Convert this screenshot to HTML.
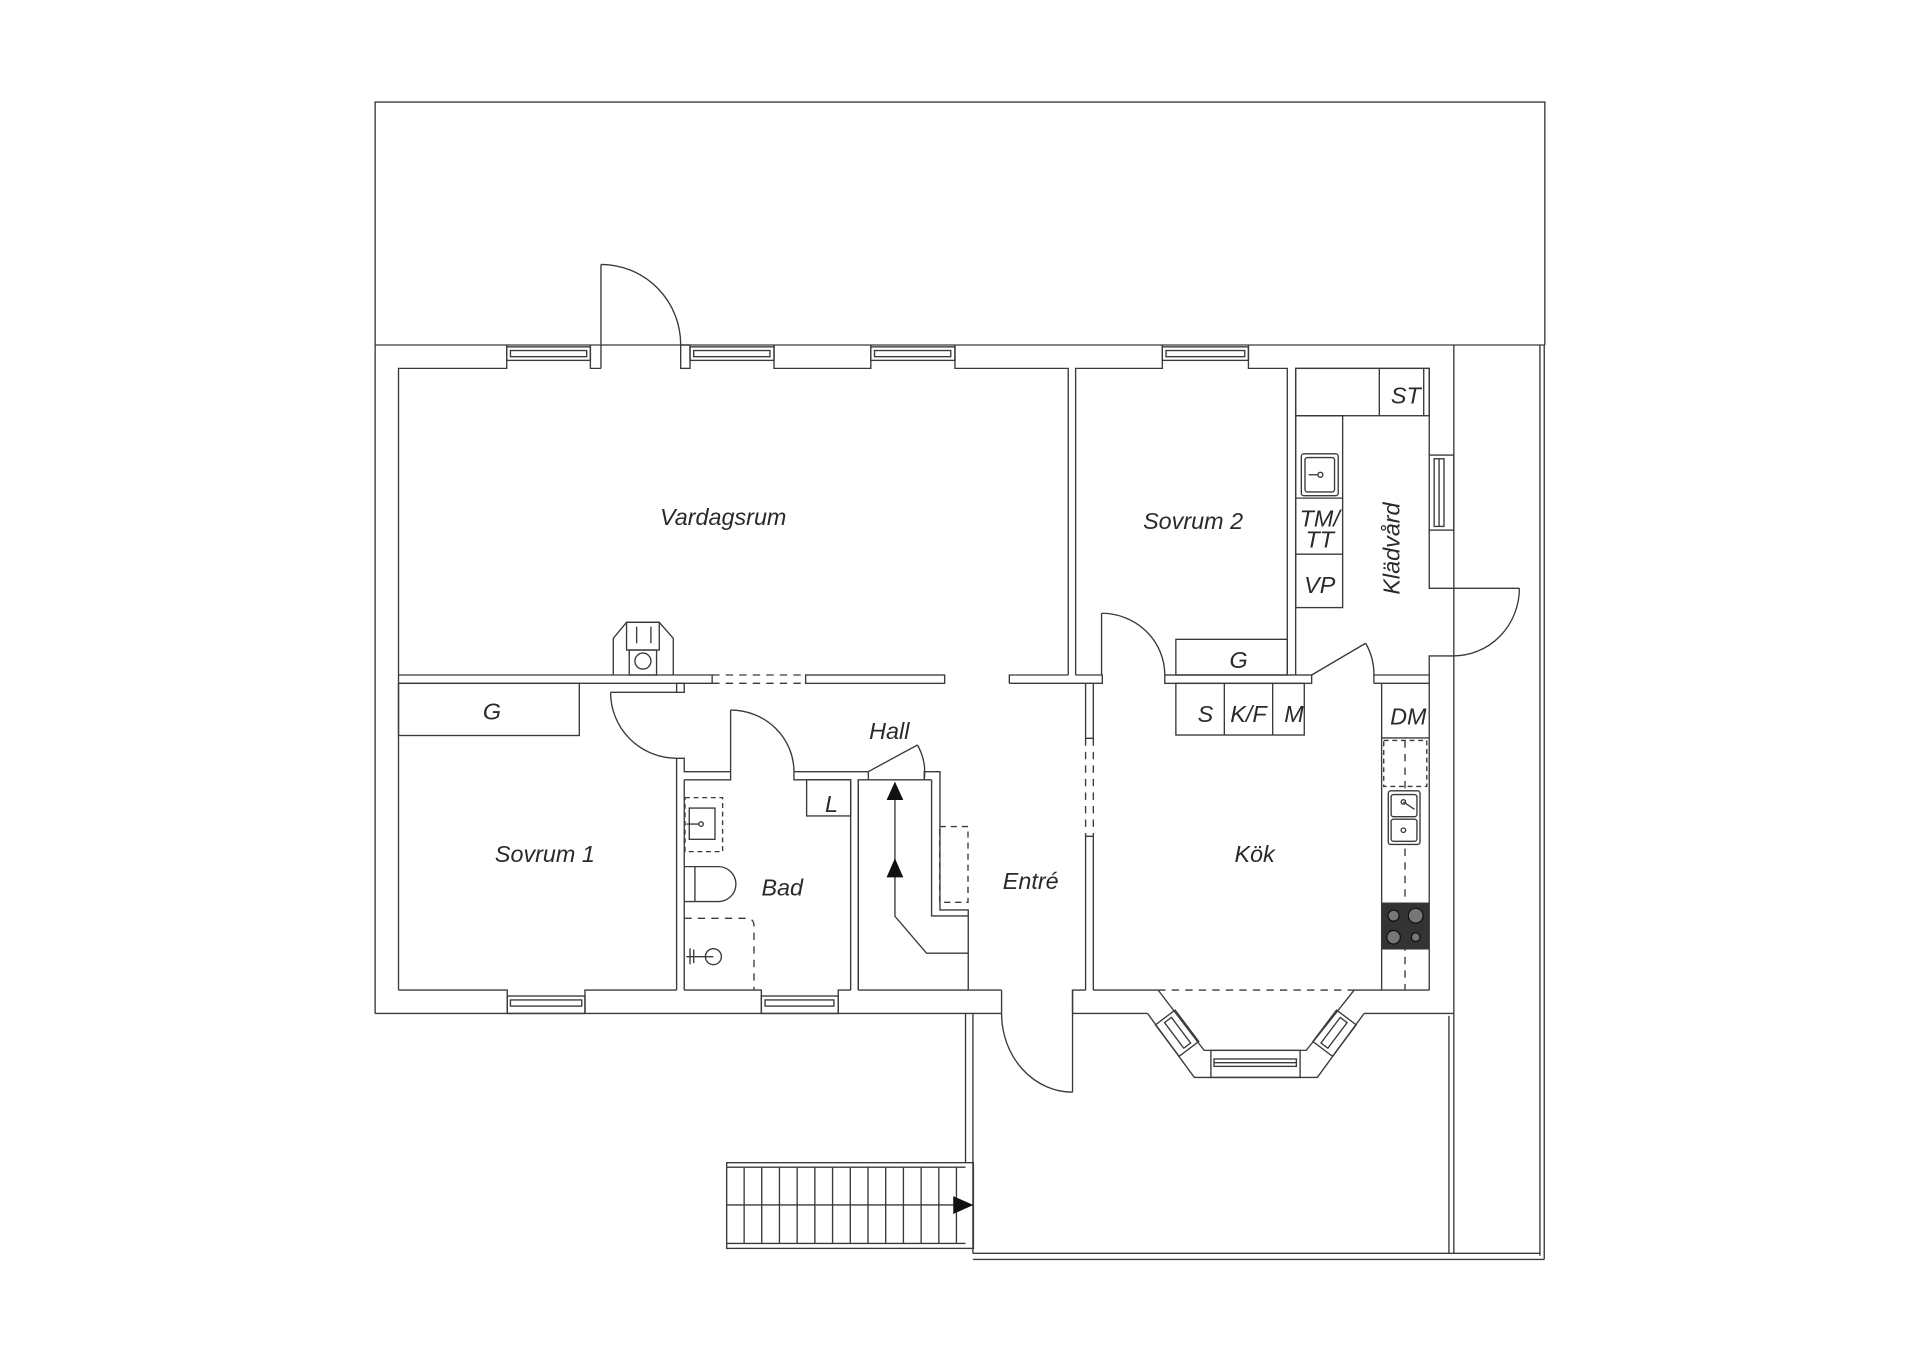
<!DOCTYPE html>
<html><head><meta charset="utf-8"><style>
html,body{margin:0;padding:0;background:#fff;}
svg{display:block;}
text{font-family:"Liberation Sans",sans-serif;font-style:italic;fill:#2a2a2a;font-size:19px;}
</style></head><body>
<svg width="1920" height="1357" viewBox="0 0 1561 1103.3" preserveAspectRatio="none" xmlns="http://www.w3.org/2000/svg">
<g fill="none" stroke="#3a3a3a" stroke-width="1.1">
<!-- yard top -->
<polyline points="305,280.5 305,83 1256,83 1256,280.5"/>
<!-- outer top line -->
<line x1="305" y1="280.5" x2="1256" y2="280.5"/>
<!-- far right double lines -->
<line x1="1252" y1="280.5" x2="1252" y2="1021"/>
<line x1="1255.5" y1="280.5" x2="1255.5" y2="1024"/>
<!-- outer left and bottom -->
<line x1="305" y1="280.5" x2="305" y2="824"/>
<line x1="305" y1="824" x2="814" y2="824"/>
<line x1="872" y1="824" x2="933" y2="824"/>
<line x1="1109" y1="824" x2="1182" y2="824"/>
<line x1="1182" y1="280.5" x2="1182" y2="824"/>
<!-- lower enclosure -->
<line x1="785" y1="824" x2="785" y2="945"/>
<line x1="791" y1="824" x2="791" y2="1019"/>
<line x1="791" y1="1019" x2="1252" y2="1019"/>
<line x1="791" y1="1024" x2="1255.5" y2="1024"/>
<line x1="1178" y1="826" x2="1178" y2="1019"/>
<line x1="1182" y1="824" x2="1182" y2="1019"/>

<!-- top wall inner + windows -->
<polyline points="324,805 324,299.5 412,299.5 412,280.5"/>
<rect x="412" y="282" width="68" height="11"/><rect x="415" y="285" width="62" height="5"/>
<polyline points="480,280.5 480,299.5 488.6,299.5"/>
<line x1="488.6" y1="215" x2="488.6" y2="299.5"/>
<path d="M488.6,215 A65,65 0 0 1 553.4,280.5"/>
<rect x="553.4" y="280.5" width="7.6" height="19"/>
<rect x="561" y="282" width="68.3" height="11"/><rect x="564" y="285" width="62" height="5"/>
<polyline points="629.3,280.5 629.3,299.5 708,299.5 708,280.5"/>
<rect x="708" y="282" width="68.4" height="11"/><rect x="711" y="285" width="62" height="5"/>
<polyline points="776.4,280.5 776.4,299.5 868.5,299.5 868.5,548.8"/>
<!-- vardagsrum/sovrum2 wall -->
<polyline points="874.5,548.8 874.5,299.5 945,299.5 945,280.5"/>
<rect x="945" y="282" width="70" height="11"/><rect x="948" y="285" width="64" height="5"/>
<polyline points="1015,280.5 1015,299.5 1046.6,299.5 1046.6,548.8"/>
<polyline points="1053.4,548.8 1053.4,299.5 1162,299.5 1162,370"/>
<!-- klädvård right window + door -->
<rect x="1162" y="370" width="20" height="61"/>
<rect x="1166" y="373" width="8" height="55"/><line x1="1170" y1="373" x2="1170" y2="428"/>
<polyline points="1162,431 1162,478.3 1235.3,478.3"/>
<path d="M1235.3,478.3 A53.7,55 0 0 1 1181.6,533.3"/>
<polyline points="1182,533.3 1162,533.3 1162,548.8 1117,548.8"/>
<line x1="1117" y1="548.8" x2="1117" y2="555.6"/>
<!-- klädvård door -->
<line x1="1066.4" y1="548.8" x2="1110.3" y2="523"/>
<path d="M1110.3,523 A50,50 0 0 1 1117,548.8"/>
<!-- klädvård cabinets -->
<rect x="1053.4" y="299.5" width="108.6" height="38.5"/>
<line x1="1121.4" y1="299.5" x2="1121.4" y2="338"/>
<line x1="1157.5" y1="299.5" x2="1157.5" y2="338"/>
<rect x="1053.4" y="338" width="38.2" height="156"/>
<line x1="1053.4" y1="405" x2="1091.6" y2="405"/>
<line x1="1053.4" y1="450.6" x2="1091.6" y2="450.6"/>
<rect x="1058" y="369" width="30" height="34" rx="2"/><rect x="1061" y="372" width="24" height="28" rx="2"/>
<circle cx="1073.5" cy="386" r="2"/><line x1="1064" y1="386" x2="1072" y2="386"/>

<!-- vardagsrum bottom wall -->
<polyline points="324,548.8 579,548.8 579,555.6 324,555.6"/>
<line x1="579" y1="548.8" x2="655" y2="548.8" stroke-dasharray="6,5"/>
<line x1="579" y1="555.6" x2="655" y2="555.6" stroke-dasharray="6,5"/>
<rect x="655" y="548.8" width="113" height="6.8"/>
<polyline points="820.6,555.6 820.6,548.8 868.5,548.8"/>
<polyline points="874.5,548.8 896.2,548.8 896.2,555.6 820.6,555.6"/>
<!-- sovrum2 door -->
<line x1="895.6" y1="498.6" x2="895.6" y2="548.8"/>
<path d="M895.6,498.6 A51.4,50.2 0 0 1 947,548.8"/>
<rect x="947" y="548.8" width="119.4" height="6.8"/>
<rect x="956" y="519.8" width="90.6" height="29"/>
<rect x="956" y="555.6" width="104.4" height="42"/>
<line x1="995.4" y1="555.6" x2="995.4" y2="597.6"/>
<line x1="1034.7" y1="555.6" x2="1034.7" y2="597.6"/>
<!-- fireplace -->
<polyline points="498.6,548.8 498.6,519 509.4,506 536,506 547.4,519 547.4,548.8"/>
<rect x="509.4" y="506" width="26.6" height="22.5"/>
<rect x="511.6" y="528.5" width="22.2" height="20.3"/>
<circle cx="522.7" cy="537.5" r="6.5"/>
<line x1="517.6" y1="509.5" x2="517.6" y2="523"/><line x1="529.2" y1="509.5" x2="529.2" y2="523"/>

<!-- sovrum1 -->
<rect x="324" y="555.6" width="147" height="42.4"/>
<rect x="550.1" y="555.6" width="6.2" height="7.3"/>
<line x1="496.4" y1="562.9" x2="550.1" y2="562.9"/>
<path d="M496.4,562.9 A53.7,53.6 0 0 0 550.1,616.5"/>
<polyline points="550.1,616.5 556.3,616.5 556.3,627.4 594,627.4"/>
<line x1="550.1" y1="616.5" x2="550.1" y2="805"/>
<line x1="556.3" y1="634" x2="556.3" y2="805"/>
<polyline points="324,805 412.4,805 412.4,824"/>
<rect x="412.4" y="809.8" width="63.2" height="14.2"/><rect x="415" y="813" width="58" height="5"/>
<polyline points="475.6,824 475.6,805 550.1,805"/>
<!-- bad -->
<line x1="594" y1="577.3" x2="594" y2="627.4"/>
<path d="M594,577.3 A51.5,50.1 0 0 1 645.5,627.4"/>
<polyline points="645.5,627.4 705.9,627.4"/>
<polyline points="556.3,634 594,634 594,627.4"/>
<polyline points="645.5,627.4 645.5,634 691.6,634 691.6,805"/>
<rect x="655.8" y="634" width="35.8" height="29.4"/>
<line x1="697.8" y1="634" x2="697.8" y2="805"/>
<polyline points="556.3,805 619,805 619,824"/>
<rect x="619" y="809.8" width="62.5" height="14.2"/><rect x="622" y="813" width="56" height="5"/>
<polyline points="681.5,824 681.5,805 691.6,805"/>
<rect x="556.9" y="648.5" width="30.6" height="43.9" stroke-dasharray="4,3"/>
<rect x="560.4" y="657" width="20.9" height="25.4"/>
<circle cx="570" cy="670" r="1.8"/><line x1="558" y1="670" x2="568" y2="670"/>
<path d="M556.3,704.6 H584 A14.3,14.2 0 0 1 584,733 H556.3"/>
<line x1="565" y1="704.6" x2="565" y2="733"/>
<path d="M556.3,746.6 H607 Q613,746.6 613,753 V805" stroke-dasharray="6,5"/>
<circle cx="580" cy="777.8" r="6.5"/>
<line x1="558" y1="777.8" x2="580" y2="777.8"/><line x1="561" y1="771" x2="561" y2="784"/><line x1="564" y1="772" x2="564" y2="783"/>
<!-- stair closet -->
<polyline points="697.8,805 697.8,634 706,634"/>
<line x1="706" y1="627.4" x2="706" y2="634"/>
<line x1="705.9" y1="627.4" x2="745.9" y2="605.7"/>
<path d="M745.9,605.7 A45,45 0 0 1 751.4,634"/>
<line x1="706" y1="634" x2="757.4" y2="634"/>
<polyline points="751.4,634 751.4,627.4 764.2,627.4 764.2,739.8 787.2,739.8 787.2,805"/>
<polyline points="757.4,634 757.4,744.7 787.2,744.7"/>
<rect x="764" y="672" width="23" height="61.6" stroke-dasharray="5,4"/>
<polyline points="727.6,640 727.6,745 753.3,775 787.2,775"/>
<line x1="697.8" y1="805" x2="814.3" y2="805"/>
<line x1="814.3" y1="805" x2="814.3" y2="824"/>
<!-- entré door -->
<line x1="872" y1="805" x2="872" y2="888"/>
<path d="M814.3,824 A57.7,64 0 0 0 872,888"/>
<polyline points="872,824 872,805 882.6,805"/>
<!-- kitchen left wall -->
<polyline points="882.6,805 882.6,680 888.9,680 888.9,805"/>
<polyline points="882.6,555.6 882.6,600.3 888.9,600.3 888.9,555.6"/>
<line x1="882.6" y1="600.3" x2="882.6" y2="680" stroke-dasharray="6,5"/>
<line x1="888.9" y1="600.3" x2="888.9" y2="680" stroke-dasharray="6,5"/>
<!-- kitchen bottom + bay -->
<line x1="888.9" y1="805" x2="941.6" y2="805"/>
<line x1="941.6" y1="805" x2="1101" y2="805" stroke-dasharray="6,5"/>
<line x1="1101" y1="805" x2="1162" y2="805"/>
<polyline points="933,824 971,876 1071,876 1109,824"/>
<polyline points="941.6,805 979,854 1062,854 1101,805"/>
<rect x="984.5" y="854" width="72.5" height="22"/>
<rect x="987" y="861" width="67" height="6"/><line x1="987" y1="864" x2="1054" y2="864"/>
<g transform="translate(957,840) rotate(53)"><rect x="-16" y="-10" width="32" height="20"/><rect x="-13" y="-4" width="26" height="7"/></g>
<g transform="translate(1085,840) rotate(-53)"><rect x="-16" y="-10" width="32" height="20"/><rect x="-13" y="-4" width="26" height="7"/></g>
<!-- kitchen right cabinets -->
<line x1="1162" y1="548.8" x2="1162" y2="805"/>
<line x1="1117" y1="555.6" x2="1162" y2="555.6"/>
<line x1="1123.3" y1="555.6" x2="1123.3" y2="805"/>
<line x1="1123.3" y1="600" x2="1162" y2="600"/>
<rect x="1125" y="602" width="35" height="37.4" stroke-dasharray="4,3"/>
<line x1="1142.3" y1="602" x2="1142.3" y2="805" stroke-dasharray="6,5"/>
<rect x="1128.7" y="643" width="25.8" height="43.6" rx="2" fill="#fff"/>
<rect x="1131" y="646" width="21" height="18" rx="2"/><rect x="1131" y="666" width="21" height="18" rx="2"/>
<circle cx="1141" cy="652" r="1.8"/><circle cx="1141" cy="675" r="1.8"/>
<line x1="1141" y1="652" x2="1150" y2="658"/>
<!-- stairs -->
<rect x="590.8" y="945.3" width="200.6" height="69.7"/>
<line x1="590.8" y1="949" x2="785" y2="949"/>
<line x1="590.8" y1="1011" x2="785" y2="1011"/>
<line x1="590.8" y1="979.7" x2="785" y2="979.7"/>
</g>
<g stroke="#3a3a3a" stroke-width="1.1">
<line x1="605" y1="949" x2="605" y2="1011"/><line x1="619.3" y1="949" x2="619.3" y2="1011"/><line x1="633.7" y1="949" x2="633.7" y2="1011"/><line x1="648.1" y1="949" x2="648.1" y2="1011"/><line x1="662.5" y1="949" x2="662.5" y2="1011"/><line x1="676.9" y1="949" x2="676.9" y2="1011"/><line x1="691.3" y1="949" x2="691.3" y2="1011"/><line x1="705.7" y1="949" x2="705.7" y2="1011"/><line x1="720.1" y1="949" x2="720.1" y2="1011"/><line x1="734.5" y1="949" x2="734.5" y2="1011"/><line x1="748.9" y1="949" x2="748.9" y2="1011"/><line x1="763.3" y1="949" x2="763.3" y2="1011"/><line x1="777.6" y1="949" x2="777.6" y2="1011"/>
</g>
<g fill="#111">
<polygon points="775,972.5 791.4,979.7 775,987"/>
<polygon points="727.6,635.5 720.8,650.4 734.4,650.4"/>
<polygon points="727.6,697.8 720.8,713.3 734.4,713.3"/>
<rect x="1123.3" y="733.8" width="38.7" height="38.2" fill="#333"/>
</g>
<g fill="#777" stroke="#111" stroke-width="1">
<circle cx="1133" cy="744.5" r="4.5"/><circle cx="1151" cy="744.5" r="6"/>
<circle cx="1133" cy="762" r="5.5"/><circle cx="1151" cy="762" r="3.5"/>
</g>
<g text-anchor="middle">
<text x="588" y="427">Vardagsrum</text>
<text x="970" y="430">Sovrum 2</text>
<text x="443" y="701">Sovrum 1</text>
<text x="636" y="728">Bad</text>
<text x="723" y="601">Hall</text>
<text x="838" y="723">Entré</text>
<text x="1020" y="701">Kök</text>
<text x="400" y="585">G</text>
<text x="1007" y="543">G</text>
<text x="980" y="587">S</text>
<text x="1015" y="587">K/F</text>
<text x="1052" y="587">M</text>
<text x="1145" y="589">DM</text>
<text x="1143" y="328">ST</text>
<text x="1073" y="428" font-size="18">TM/</text>
<text x="1073" y="445" font-size="18">TT</text>
<text x="1073" y="482">VP</text>
<text x="676" y="660">L</text>
<text x="0" y="0" transform="translate(1138,446) rotate(-90)">Klädvård</text>
</g>
</svg>
</body></html>
